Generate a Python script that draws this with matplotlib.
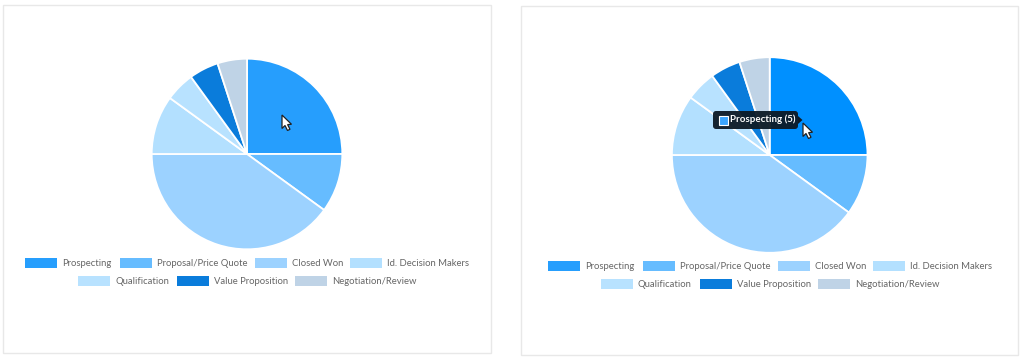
import matplotlib
matplotlib.use("Agg")
import matplotlib.pyplot as plt
from matplotlib.patches import FancyBboxPatch, Polygon, Rectangle

plt.rcParams["font.family"] = ["Lato", "DejaVu Sans"]

W, H = 1024, 359
ETAPAS = ["Prospecting", "Proposal/Price Quote", "Closed Won", "Id. Decision Makers",
          "Qualification", "Value Proposition", "Negotiation/Review"]
VALORES = [5, 2, 8, 2, 1, 1, 1]
CORES = ["#269efd", "#66bcff", "#9cd2ff", "#b3e0ff", "#b8e2ff", "#0a7cdb", "#bfd3e6"]
CORES_HOVER = ["#0090ff"] + CORES[1:]
SETA = [(0, 0), (0, 13.5), (3, 10.5), (5.5, 15.5), (8, 14.3), (5.6, 9.6), (9.5, 9.3)]

fig = plt.figure(figsize=(W / 100, H / 100), dpi=100, facecolor="white")
bg = fig.add_axes([0, 0, 1, 1])
bg.set_xlim(0, W); bg.set_ylim(H, 0); bg.axis("off")


def pizza(cx, cy, r, cores):
    ax = fig.add_axes([(cx - r - 2) / W, 1 - (cy + r + 2) / H, (2 * r + 4) / W, (2 * r + 4) / H])
    ax.pie(VALORES, colors=cores, startangle=90, counterclock=False, radius=1,
           wedgeprops={"edgecolor": "white", "linewidth": 1.3})
    ax.set_xlim(-1 - 2 / r, 1 + 2 / r); ax.set_ylim(-1 - 2 / r, 1 + 2 / r)
    ax.set_aspect("auto")
    return ax


def legenda(dx, dy, ax_leg):
    xs = [25, 120, 255, 350, 78, 177, 295]
    ys = [258] * 4 + [276] * 3
    for nome, cor, x, y in zip(ETAPAS, CORES, xs, ys):
        ax_leg.add_patch(Rectangle((x + dx, y + dy), 32, 9.5, fc=cor, ec="none"))
        ax_leg.text(x + dx + 37, y + dy + 5.2, nome, fontsize=6.85, color="#666666",
                    ha="left", va="center")


# molduras dos dois painéis
bg.add_patch(Rectangle((2.5, 5), 488, 348, fc="white", ec="#e8e8e8", lw=1))
bg.add_patch(Rectangle((520.5, 5.5), 497.5, 349, fc="white", ec="#e8e8e8", lw=1))

pizza(247, 154, 95.3, CORES)
pizza(769.7, 155, 97.8, CORES_HOVER)

# camada de cima: legendas, tooltip e cursores
top = fig.add_axes([0, 0, 1, 1], facecolor="none")
top.set_xlim(0, W); top.set_ylim(H, 0); top.axis("off")
legenda(0, 0, top)
legenda(523, 3, top)

top.add_patch(FancyBboxPatch((715, 113), 81, 14, boxstyle="round,pad=2,rounding_size=3",
                             fc="#0d1a26", ec="none", alpha=0.95))
top.add_patch(Polygon([(798, 116), (802.5, 120), (798, 124)], fc="#0d1a26", ec="none"))
top.add_patch(Rectangle((718.5, 115.5), 9.5, 9.5, fc="#3aa5ff", ec="white", lw=0.8))
top.text(729.5, 119.7, f"{ETAPAS[0]} ({VALORES[0]})", fontsize=7.0, color="white",
         fontweight="bold", ha="left", va="center")

for px, py in [(282, 115), (803, 123)]:
    top.add_patch(Polygon([(px + a, py + b) for a, b in SETA], fc="white", ec="#222222", lw=0.9))

fig.savefig("out.png", dpi=100)
plt.close(fig)
